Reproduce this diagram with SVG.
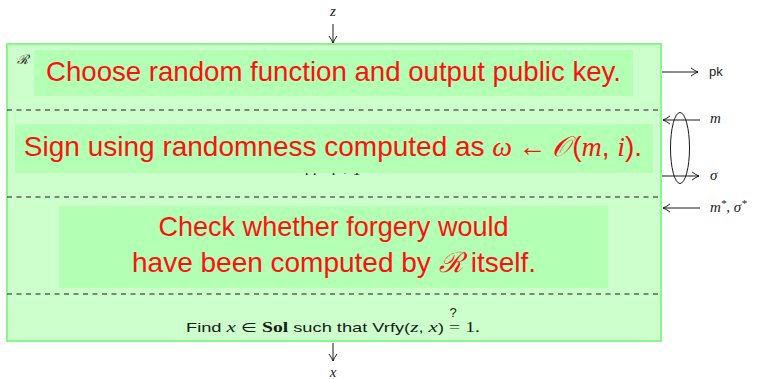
<svg xmlns="http://www.w3.org/2000/svg" width="770" height="379" viewBox="0 0 770 379">
<defs>
<style>
.ln{stroke:#1a1a1a;stroke-width:1;fill:none}
.dash{stroke:#1a1a1a;stroke-width:1;stroke-dasharray:5 4.5}
.hl{fill:#b3ffb3}
.red{fill:#ff1010;font-family:"Liberation Sans","DejaVu Sans",sans-serif;font-size:28px}
.redm{font-family:"Liberation Serif","DejaVu Serif",serif;font-style:italic}
.math{font-family:"Liberation Serif","DejaVu Serif",serif;font-style:italic;font-size:15px;fill:#1a1a1a}
.sans{font-family:"Liberation Sans","DejaVu Sans",sans-serif;font-size:13px;fill:#1a1a1a}
</style>
<marker id="ah" viewBox="0 0 10 10" refX="9" refY="5" markerWidth="10" markerHeight="10" markerUnits="userSpaceOnUse" orient="auto">
<path d="M2,1 Q6,4 9,5 Q6,6 2,9" fill="none" stroke="#1a1a1a" stroke-width="1"/>
</marker>
</defs>

<g id="reduction">
<rect x="7" y="44" width="654" height="297" fill="#ccffcc" stroke="#88f888" stroke-width="2"/>
<text x="17" y="64" font-family="DejaVu Serif,serif" font-style="italic" font-size="13" fill="#1a1a1a">ℛ</text>
</g>

<g id="phase1">
<rect class="hl" x="34" y="50" width="599" height="46"/>
<text class="red" x="333.5" y="81" text-anchor="middle" textLength="575" lengthAdjust="spacingAndGlyphs">Choose random function and output public key.</text>
</g>

<line class="dash" x1="7" y1="110" x2="661" y2="110"/>

<g id="phase2">
<text class="math" x="333" y="175" text-anchor="middle" font-size="12">i := i + 1</text>
<rect class="hl" x="15" y="124" width="638" height="49"/>
<text class="red" x="333" y="156" text-anchor="middle">Sign using randomness computed as <tspan class="redm">ω</tspan><tspan dx="6">←</tspan><tspan class="redm" dx="6">𝒪</tspan><tspan dx="2">(</tspan><tspan class="redm">m</tspan>, <tspan class="redm">i</tspan>).</text>
</g>

<line class="dash" x1="7" y1="197" x2="661" y2="197"/>

<g id="phase3">
<rect class="hl" x="59" y="206" width="549" height="82"/>
<text class="red" x="333.5" y="236" text-anchor="middle" textLength="350" lengthAdjust="spacingAndGlyphs">Check whether forgery would</text>
<text class="red" x="334" y="272" text-anchor="middle">have been computed by <tspan class="redm">ℛ</tspan><tspan dx="8">itself.</tspan></text>
</g>

<line class="dash" x1="7" y1="294" x2="661" y2="294"/>

<g id="phase4">
<text class="sans" x="186" y="332" textLength="294" lengthAdjust="spacingAndGlyphs">Find <tspan class="math" font-size="14">x</tspan> ∈ <tspan font-family="Liberation Serif,serif" font-weight="bold" font-size="14">Sol</tspan> such that Vrfy(<tspan class="math" font-size="14">z</tspan>, <tspan class="math" font-size="14">x</tspan>) <tspan font-family="Liberation Serif,serif" font-size="14">=</tspan> <tspan font-family="Liberation Serif,serif" font-size="14">1.</tspan></text>
<text class="sans" x="453" y="317" text-anchor="middle" font-size="10">?</text>
</g>

<g id="connectors">
<line class="ln" x1="333" y1="24" x2="333" y2="43" marker-end="url(#ah)"/>
<line class="ln" x1="333" y1="343" x2="333" y2="361" marker-end="url(#ah)"/>
<line class="ln" x1="662" y1="72" x2="698" y2="72" marker-end="url(#ah)"/>
<ellipse class="ln" cx="680" cy="148" rx="9.5" ry="35.5"/>
<line class="ln" x1="700" y1="120" x2="663" y2="120" marker-end="url(#ah)"/>
<line class="ln" x1="662" y1="176" x2="699" y2="176" marker-end="url(#ah)"/>
<line class="ln" x1="700" y1="208" x2="663" y2="208" marker-end="url(#ah)"/>
</g>

<g id="labels">
<text class="math" x="333" y="16" text-anchor="middle">z</text>
<text class="math" x="333" y="377" text-anchor="middle">x</text>
<text class="sans" x="709" y="76">pk</text>
<text class="math" x="710" y="123">m</text>
<text class="math" x="710" y="180">σ</text>
<text class="math" x="710" y="212">m<tspan font-size="11" dy="-5">*</tspan><tspan dy="5">, σ</tspan><tspan font-size="11" dy="-5">*</tspan></text>
</g>
</svg>
